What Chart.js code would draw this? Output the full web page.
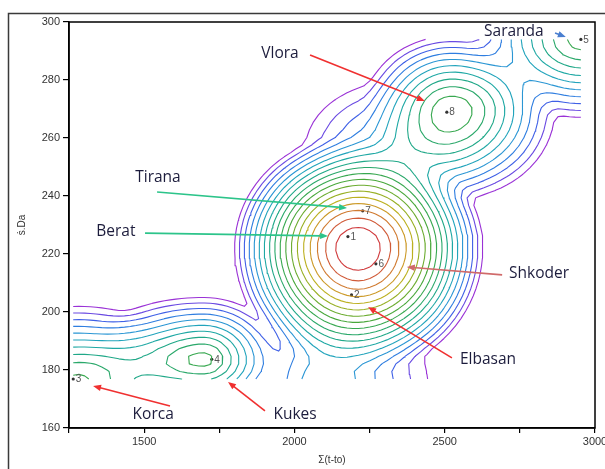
<!DOCTYPE html>
<html>
<head>
<meta charset="utf-8">
<script src="https://cdn.jsdelivr.net/npm/chart.js@4.4.1/dist/chart.umd.min.js"></script>
<style>
  html, body { margin: 0; padding: 0; background: #fff; }
  canvas { display: block; }
</style>
</head>
<body>
<canvas id="c" width="605" height="469"></canvas>
<script>
// Station points: index label, Σ(t-to), ṡ.Da
const stationIds = ['1', '2', '3', '4', '5', '6', '7', '8'];
const stationX = [2178, 2190, 1264, 1725, 2953, 2271, 2227, 2507];
const stationY = [226.0, 205.9, 176.9, 183.7, 294.0, 216.6, 234.9, 268.9];

// Surface hills: centre, height (in contour steps), reach to each side, flatness of the top
// (central, Vlora, Kukes, Korca, Saranda, southern shoulder, northern shoulder)
const hillX = [2211, 2526, 1696, 1280, 2960, 2101, 2351];
const hillY = [222.1, 269.6, 183.5, 176.6, 294.1, 173.1, 255.9];
const hillHeight = [18.95, 10.6, 10.4, 10.2, 10.5, 6.0, 6.0];
const hillReachLeft = [426, 316, 432, 432, 400, 300, 366];
const hillReachRight = [432, 366, 283, 432, 366, 400, 366];
const hillReachUp = [40.7, 27.6, 23.4, 27.6, 29.3, 41.4, 27.6];
const hillReachDown = [44.8, 32.8, 20.7, 26.9, 29.3, 20.7, 27.6];
const hillFlat = [0.45, 0.35, 0.2, 0.2, 0.2, 0.2, 0.2];
const hillBlend = 2.2;

// Contour levels and their colours (low = violet, high = red)
const contourLevels = [1, 2, 3, 4, 5, 6, 7, 8, 9, 10, 11, 12, 13, 14, 15, 16, 17, 18];
const levelColors = ['#9a32d6', '#6a4ae2', '#3f60e6', '#2f7ee0', '#2a96d4', '#22a4bc',
  '#1ea8a4', '#20a888', '#2aa86a', '#38a850', '#4aa83c', '#6cac30',
  '#98b024', '#bcb020', '#cc9a28', '#d07a30', '#d05a38', '#d03a3c'];

// Axis ticks
const xTickMin = 1250, xTickMax = 3000, xTickStep = 250, xLabelStep = 500;
const yTickMin = 160, yTickMax = 300, yTickStep = 20;

// City annotations: name position and arrow from/to, in axis units
const cityNames = ['Vlora', 'Saranda', 'Tirana', 'Berat', 'Shkoder', 'Elbasan', 'Korca', 'Kukes'];
const cityTextX = [1952, 2730, 1546, 1406, 2814, 2644, 1530, 2002];
const cityTextY = [289.0, 296.6, 246.2, 227.9, 213.1, 183.5, 164.8, 164.8];
const arrowFromX = [2052, 2867, 1543, 1503, 2691, 2524, 1586, 1902];
const arrowFromY = [288.6, 296.2, 241.4, 227.2, 212.8, 184.2, 167.6, 165.9];
const arrowToX = [2434, 2903, 2175, 2112, 2374, 2245, 1330, 1779];
const arrowToY = [272.8, 294.8, 235.9, 226.2, 215.5, 201.7, 174.5, 175.9];
const arrowColors = ['#f03030', '#4a7fd0', '#2cc48a', '#2cc48a', '#d06a6a', '#f03030', '#f03030', '#f03030'];

// ---- surface over the stations' bounding box ----
function surface(x, y) {
  let acc = 0;
  for (let k = 0; k < hillX.length; k++) {
    const dx = x - hillX[k], dy = y - hillY[k];
    const rx = dx < 0 ? hillReachLeft[k] : hillReachRight[k];
    const ry = dy > 0 ? hillReachUp[k] : hillReachDown[k];
    const r = Math.hypot(dx / rx, dy / ry);
    if (r >= 1) continue;
    const c = hillFlat[k];
    const fall = (Math.sqrt(r * r + c * c) - c) / (Math.sqrt(1 + c * c) - c);
    acc += Math.pow(hillHeight[k] * (1 - fall), hillBlend);
  }
  return Math.pow(acc, 1 / hillBlend);
}

const gridNx = 90, gridNy = 46;
const gx0 = Math.min(...stationX), gx1 = Math.max(...stationX);
const gy0 = Math.min(...stationY), gy1 = Math.max(...stationY);
const xs = [], ys = [];
for (let i = 0; i < gridNx; i++) xs.push(gx0 + (gx1 - gx0) * i / (gridNx - 1));
for (let j = 0; j < gridNy; j++) ys.push(gy0 + (gy1 - gy0) * j / (gridNy - 1));
const field = ys.map(y => xs.map(x => surface(x, y)));

// ---- marching squares with segment chaining ----
const caseEdges = { 1: [[3, 0]], 2: [[0, 1]], 3: [[3, 1]], 4: [[1, 2]], 6: [[0, 2]], 7: [[3, 2]],
  8: [[2, 3]], 9: [[0, 2]], 11: [[1, 2]], 12: [[1, 3]], 13: [[0, 1]], 14: [[3, 0]] };

function traceLevel(L) {
  const segs = [];
  function edgePoint(e, i, j) {
    let ia, ja, ib, jb, key;
    if (e === 0) { ia = i; ja = j; ib = i + 1; jb = j; key = 'h' + i + '_' + j; }
    else if (e === 1) { ia = i + 1; ja = j; ib = i + 1; jb = j + 1; key = 'v' + (i + 1) + '_' + j; }
    else if (e === 2) { ia = i; ja = j + 1; ib = i + 1; jb = j + 1; key = 'h' + i + '_' + (j + 1); }
    else { ia = i; ja = j; ib = i; jb = j + 1; key = 'v' + i + '_' + j; }
    const va = field[ja][ia], vb = field[jb][ib];
    const t = (L - va) / (vb - va);
    return { key, x: xs[ia] + t * (xs[ib] - xs[ia]), y: ys[ja] + t * (ys[jb] - ys[ja]) };
  }
  for (let j = 0; j < gridNy - 1; j++) {
    for (let i = 0; i < gridNx - 1; i++) {
      const a = field[j][i], b = field[j][i + 1], c = field[j + 1][i + 1], d = field[j + 1][i];
      const idx = (a >= L ? 1 : 0) | (b >= L ? 2 : 0) | (c >= L ? 4 : 0) | (d >= L ? 8 : 0);
      if (idx === 0 || idx === 15) continue;
      let pairs;
      if (idx === 5 || idx === 10) {
        const mid = (a + b + c + d) / 4 >= L;
        if (idx === 5) pairs = mid ? [[0, 1], [2, 3]] : [[3, 0], [1, 2]];
        else pairs = mid ? [[3, 0], [1, 2]] : [[0, 1], [2, 3]];
      } else pairs = caseEdges[idx];
      for (const [e1, e2] of pairs) segs.push([edgePoint(e1, i, j), edgePoint(e2, i, j)]);
    }
  }
  const byKey = new Map();
  segs.forEach((s, n) => {
    for (const p of s) {
      if (!byKey.has(p.key)) byKey.set(p.key, []);
      byKey.get(p.key).push(n);
    }
  });
  const used = new Uint8Array(segs.length);
  const lines = [];
  function walk(n, key) {
    const s0 = segs[n];
    const line = [s0[0].key === key ? s0[0] : s0[1]];
    while (true) {
      used[n] = 1;
      const s = segs[n];
      const other = s[0].key === key ? s[1] : s[0];
      line.push(other);
      key = other.key;
      const next = byKey.get(key).find(m => !used[m]);
      if (next === undefined) break;
      n = next;
    }
    return line;
  }
  for (const [key, list] of byKey) {
    if (list.length === 1 && !used[list[0]]) lines.push(walk(list[0], key));
  }
  for (let n = 0; n < segs.length; n++) if (!used[n]) lines.push(walk(n, segs[n][0].key));
  const data = [];
  for (const line of lines) {
    for (const p of line) data.push({ x: p.x, y: p.y });
    data.push({ x: null, y: null });
  }
  return data;
}

const contourSets = contourLevels.map((L, k) => ({
  label: 'level ' + L,
  data: traceLevel(L),
  showLine: true,
  spanGaps: false,
  borderColor: levelColors[k],
  borderWidth: 1.1,
  borderJoinStyle: 'round',
  pointRadius: 0,
  tension: 0
}));

const stationSet = {
  label: 'stations',
  data: stationX.map((x, i) => ({ x, y: stationY[i] })),
  showLine: false,
  pointRadius: 1.6,
  pointBackgroundColor: '#333',
  pointBorderWidth: 0
};

function drawArrow(ctx, x0, y0, x1, y1, color) {
  const ang = Math.atan2(y1 - y0, x1 - x0);
  const len = 8, half = 3.2;
  ctx.strokeStyle = color;
  ctx.fillStyle = color;
  ctx.lineWidth = 1.6;
  ctx.beginPath();
  ctx.moveTo(x0, y0);
  ctx.lineTo(x1 - Math.cos(ang) * len * 0.8, y1 - Math.sin(ang) * len * 0.8);
  ctx.stroke();
  ctx.beginPath();
  ctx.moveTo(x1, y1);
  ctx.lineTo(x1 - Math.cos(ang) * len - Math.sin(ang) * half, y1 - Math.sin(ang) * len + Math.cos(ang) * half);
  ctx.lineTo(x1 - Math.cos(ang) * len + Math.sin(ang) * half, y1 - Math.sin(ang) * len - Math.cos(ang) * half);
  ctx.closePath();
  ctx.fill();
}

const overlay = {
  id: 'overlay',
  beforeDraw(chart) {
    const { ctx } = chart;
    ctx.save();
    ctx.strokeStyle = '#3a3a3a';
    ctx.lineWidth = 1.5;
    ctx.beginPath();
    ctx.moveTo(8.5, chart.height);
    ctx.lineTo(8.5, 13.5);
    ctx.lineTo(chart.width, 13.5);
    ctx.stroke();
    ctx.restore();
  },
  afterDatasetsDraw(chart) {
    const { ctx, chartArea: a, scales: { x, y } } = chart;
    ctx.save();
    ctx.strokeStyle = '#000';
    ctx.lineWidth = 1.5;
    ctx.strokeRect(a.left, a.top, a.right - a.left, a.bottom - a.top);

    ctx.fillStyle = '#555';
    ctx.font = '10px "Liberation Sans", Arial, sans-serif';
    ctx.textAlign = 'left';
    ctx.textBaseline = 'middle';
    stationIds.forEach((id, i) => {
      ctx.fillText(id, x.getPixelForValue(stationX[i]) + 2.5, y.getPixelForValue(stationY[i]) + 0.5);
    });

    cityNames.forEach((name, i) => {
      drawArrow(ctx, x.getPixelForValue(arrowFromX[i]), y.getPixelForValue(arrowFromY[i]),
        x.getPixelForValue(arrowToX[i]), y.getPixelForValue(arrowToY[i]), arrowColors[i]);
    });
    ctx.fillStyle = '#1c1c3c';
    ctx.font = '15.5px "Open Sans", sans-serif';
    ctx.textAlign = 'center';
    ctx.textBaseline = 'middle';
    cityNames.forEach((name, i) => {
      ctx.fillText(name, x.getPixelForValue(cityTextX[i]), y.getPixelForValue(cityTextY[i]));
    });
    ctx.restore();
  }
};

const tickFont = { family: '"Liberation Sans", Arial, sans-serif', size: 11 };

new Chart(document.getElementById('c'), {
  type: 'scatter',
  data: { datasets: [...contourSets, stationSet] },
  options: {
    responsive: false,
    animation: false,
    events: [],
    layout: { padding: { left: 0, top: 22, right: 10, bottom: 0 } },
    plugins: { legend: { display: false }, tooltip: { enabled: false } },
    scales: {
      x: {
        type: 'linear',
        min: xTickMin,
        max: xTickMax,
        ticks: {
          stepSize: xTickStep,
          autoSkip: false,
          maxRotation: 0,
          padding: 2,
          color: '#333',
          font: tickFont,
          callback: v => (v % xLabelStep === 0 && v > xTickMin) ? String(v) : ''
        },
        grid: { drawOnChartArea: false, drawTicks: true, tickLength: 5, color: '#000', lineWidth: 1.2 },
        border: { display: true, color: '#000', width: 1.5 },
        title: { display: true, text: 'Σ(t-to)', color: '#333', font: { family: '"Liberation Sans", Arial, sans-serif', size: 10 }, padding: { top: 0, bottom: 3 } },
        afterFit: s => { s.height = 41; s.paddingLeft = 0; s.paddingRight = 0; }
      },
      y: {
        type: 'linear',
        min: yTickMin,
        max: yTickMax,
        ticks: { stepSize: yTickStep, padding: 3, color: '#333', font: tickFont },
        grid: { drawOnChartArea: false, drawTicks: true, tickLength: 6, color: '#000', lineWidth: 1.2 },
        border: { display: true, color: '#000', width: 1.5 },
        title: { display: true, text: 'ṡ.Da', color: '#333', font: { family: '"Liberation Sans", Arial, sans-serif', size: 10 }, padding: { top: 16, bottom: 0 } },
        afterFit: s => { s.width = 69; s.paddingTop = 0; s.paddingBottom = 0; }
      }
    }
  },
  plugins: [overlay]
});
</script>
</body>
</html>
